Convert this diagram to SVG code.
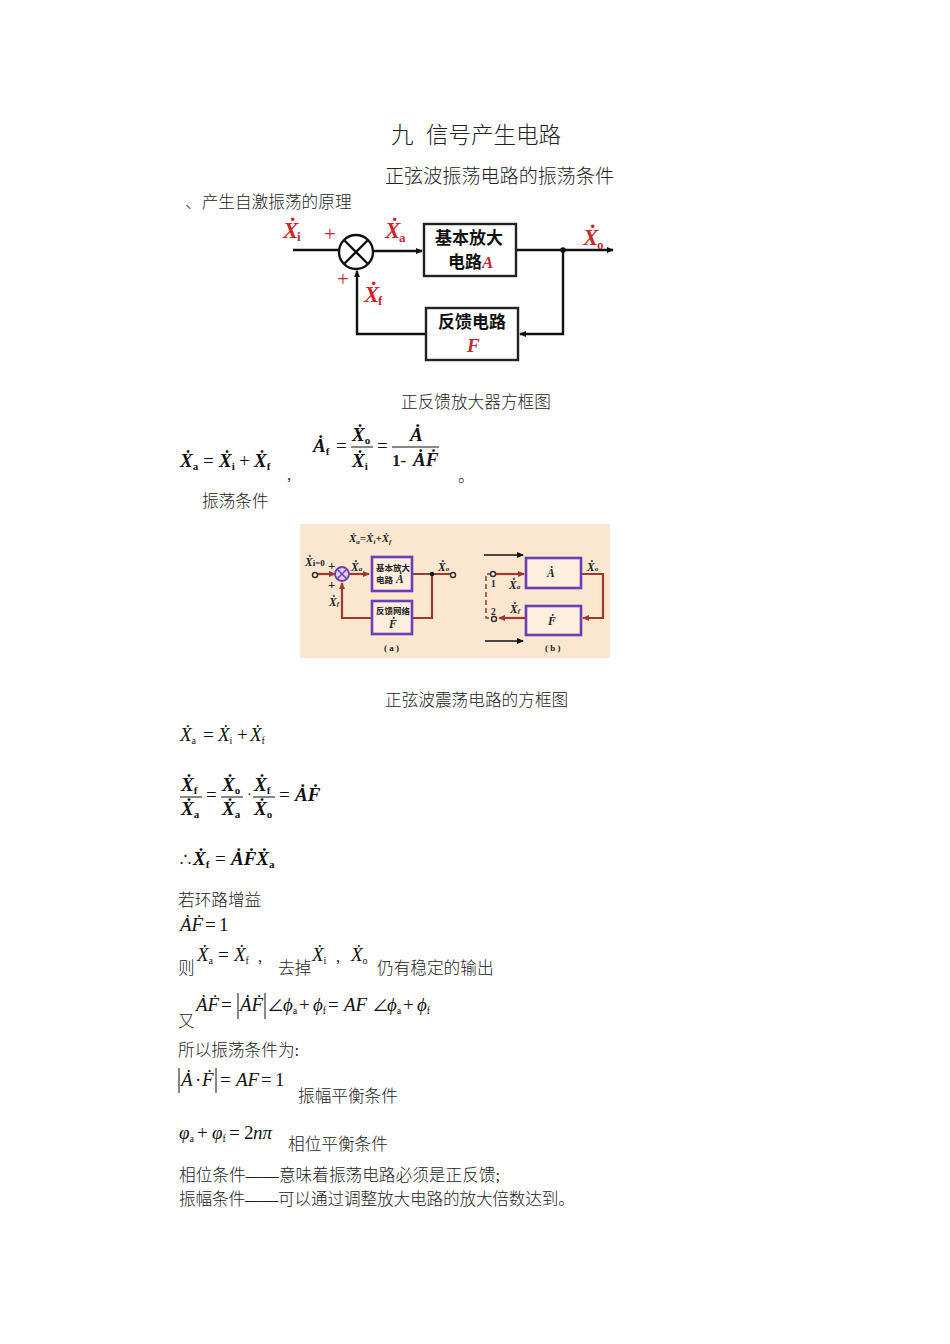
<svg xmlns="http://www.w3.org/2000/svg" width="950" height="1344" viewBox="0 0 950 1344">
<style>
text{font-family:"Liberation Serif","Noto Sans CJK SC",serif;fill:#222}
.c{font-size:16.67px;font-weight:300;transform:translateY(1px)}
.m{font-size:19px;font-style:italic;fill:#111}
.n{font-size:19px;fill:#111}
.mb{font-size:19px;font-style:italic;font-weight:bold;fill:#111}
.s{font-size:10px;font-style:normal}
.sb{font-size:11px;font-style:normal;font-weight:bold}
.r{fill:#c8282d;font-style:italic;font-weight:bold;font-size:23px}
.rs{fill:#c8282d;font-size:13px;font-weight:bold;font-style:normal}
.p{fill:#c8282d;font-size:21px}
.bk{font-size:17px;font-weight:bold;fill:#111}
.k{fill:none;stroke:#111;stroke-width:2.4}
.box{fill:#fff;stroke:#222;stroke-width:2.4}
.bx2{fill:#fdeedd;stroke:#6a3fb5;stroke-width:2.6}
.w{fill:none;stroke:#9c3a30;stroke-width:2.2}
.t{font-size:9.5px;font-weight:bold;fill:#222}
.ti{font-size:11.5px;font-weight:bold;font-style:italic;fill:#222}
.o{fill:#fdeedd;stroke:#333;stroke-width:1.5}
.rule{stroke:#111;stroke-width:1}
</style>
<defs>
<marker id="a" markerWidth="8" markerHeight="8" refX="6" refY="3" orient="auto" markerUnits="userSpaceOnUse"><path d="M0 0L7 3L0 6Z" fill="#111"/></marker>
<marker id="b" markerWidth="8" markerHeight="8" refX="6" refY="3" orient="auto" markerUnits="userSpaceOnUse"><path d="M0 0L7 3L0 6Z" fill="#9c3a30"/></marker>
</defs>
<rect width="950" height="1344" fill="#fff"/>

<g id="headings">
<text x="391" y="143" font-size="22.5" style="font-weight:300">九</text>
<text x="426" y="143" font-size="22.5" style="font-weight:300">信号产生电路</text>
<text x="385" y="183" font-size="19.1" style="font-weight:300">正弦波振荡电路的振荡条件</text>
<text x="185" y="207" class="c">、产生自激振荡的原理</text>
<text x="401" y="407" class="c">正反馈放大器方框图</text>
<text x="202" y="506" class="c">振荡条件</text>
<text x="385" y="705" class="c">正弦波震荡电路的方框图</text>
</g>

<g id="connectors-top">
<path class="k" d="M293 250H339" />
<path class="k" d="M373 251H422" marker-end="url(#a)"/>
<path class="k" d="M516 250H613" marker-end="url(#a)"/>
<path class="k" d="M563 250V334H520" marker-end="url(#a)"/>
<path class="k" d="M426 334H357V271" marker-end="url(#a)"/>
<circle cx="563" cy="250" r="2.8" fill="#111"/>
</g>
<g id="summer"><circle cx="356" cy="252" r="17" fill="#fff" stroke="#111" stroke-width="2.4"/><path class="k" d="M344 240L368 264M368 240L344 264"/></g>
<g id="amp"><rect class="box" x="424" y="224" width="92" height="52"/>
<text x="435" y="244" class="bk">基本放大</text><text x="448" y="268" class="bk">电路</text><text x="482" y="268" class="r" style="font-size:17px">A</text></g>
<g id="fb"><rect class="box" x="426" y="308" width="92" height="52"/>
<text x="438" y="328" class="bk">反馈电路</text><text x="467" y="352" class="r" style="font-size:19px">F</text></g>
<g id="top-labels">
<text x="283" y="238" class="r">X&#775;</text><text x="297" y="241" class="rs">i</text>
<text x="385" y="238" class="r">X&#775;</text><text x="399" y="242" class="rs">a</text>
<text x="583" y="245" class="r">X&#775;</text><text x="597" y="249" class="rs">o</text>
<text x="364" y="302" class="r">X&#775;</text><text x="378" y="305" class="rs">f</text>
<text x="324" y="241" class="p">+</text><text x="337" y="286" class="p">+</text>
</g>

<g id="eq-1">
<text x="180" y="467" class="mb">X&#775;<tspan class="sb" dy="3">a</tspan></text>
<text x="203" y="467" class="n">=</text>
<text x="219" y="467" class="mb">X&#775;<tspan class="sb" dy="3">i</tspan></text>
<text x="239" y="467" class="n">+</text>
<text x="254" y="467" class="mb">X&#775;<tspan class="sb" dy="3">f</tspan></text>
<text x="287" y="479" class="c">,</text>
<text x="313" y="452" class="mb">A&#775;<tspan class="sb" dy="3">f</tspan></text>
<text x="336" y="452" class="n">=</text>
<text x="352" y="441" class="mb">X&#775;<tspan class="sb" dy="3">o</tspan></text><path class="rule" d="M351 447H373"/>
<text x="352" y="467" class="mb">X&#775;<tspan class="sb" dy="3">i</tspan></text>
<text x="377" y="452" class="n">=</text>
<text x="410" y="441" class="mb">A&#775;</text><path class="rule" d="M392 447H439"/>
<text x="392" y="466" font-size="17" font-weight="bold">1-</text><text x="413" y="466" class="mb">A&#775;F&#775;</text>
<text x="458" y="481" class="c">。</text>
</g>

<g id="pic-b">
<rect x="300" y="524" width="310" height="134" fill="#fbe6cf"/>
<text x="349" y="542" class="ti" style="font-size:11px">X&#775;<tspan font-size="7" dy="2">a</tspan><tspan dy="-2">=X&#775;</tspan><tspan font-size="7" dy="2">i</tspan><tspan dy="-2">+X&#775;</tspan><tspan font-size="7" dy="2">f</tspan></text>
<g id="wires-b">
<path class="w" d="M318 574H335" marker-end="url(#b)"/>
<path class="w" d="M349 574H369" marker-end="url(#b)"/>
<path class="w" d="M412 574H451"/>
<path class="w" d="M412 618H432V574"/>
<path class="w" d="M372 618H342V583" marker-end="url(#b)"/>
<path class="w" d="M495 574H524" marker-end="url(#b)"/>
<path class="w" d="M581 574H603V618H583" marker-end="url(#b)"/>
<path class="w" d="M526 618H499" marker-end="url(#b)"/>
<path fill="none" stroke="#9c3a30" stroke-width="1.5" stroke-dasharray="5 3" d="M492 574H486V618H492"/>
<path stroke="#111" stroke-width="1.6" fill="none" marker-end="url(#a)" d="M484 555H523"/>
<path stroke="#111" stroke-width="1.6" fill="none" marker-end="url(#a)" d="M485 641H523"/>
<circle cx="432" cy="574" r="2.2" fill="#111"/>
</g>
<circle cx="342" cy="574" r="7" fill="#e6d0ee" stroke="#6a3fb5" stroke-width="1.8"/><path stroke="#6a3fb5" stroke-width="1.5" d="M337 569L347 579M347 569L337 579"/>
<circle class="o" cx="315" cy="575" r="2.5"/><circle class="o" cx="453" cy="575" r="2.5"/><circle class="o" cx="493" cy="574" r="2.5"/><circle class="o" cx="494" cy="619" r="2.5"/>
<g id="amp-a"><rect class="bx2" x="372" y="557" width="40" height="34"/><text x="376" y="571" class="t" style="font-size:8.5px">基本放大</text><text x="376" y="583" class="t" style="font-size:8.5px">电路</text><text x="396" y="583" class="ti">A&#775;</text></g>
<g id="fb-a"><rect class="bx2" x="372" y="601" width="40" height="33"/><text x="376" y="614" class="t" style="font-size:8.5px">反馈网络</text><text x="389" y="628" class="ti">F&#775;</text></g>
<g id="amp-b"><rect class="bx2" x="526" y="558" width="55" height="30"/><text x="547" y="577" class="ti">A&#775;</text></g>
<g id="fb-b"><rect class="bx2" x="526" y="606" width="55" height="29"/><text x="548" y="625" class="ti">F&#775;</text></g>
<text x="305" y="566" class="ti">X&#775;<tspan font-size="9" font-style="normal">i=0</tspan></text>
<text x="328" y="570" class="t" style="font-size:13px">+</text><text x="328" y="589" class="t" style="font-size:13px">+</text>
<text x="351" y="571" class="ti">X&#775;<tspan font-size="7">a</tspan></text>
<text x="329" y="606" class="ti">X&#775;<tspan font-size="7">f</tspan></text>
<text x="438" y="571" class="ti">X&#775;<tspan font-size="7">o</tspan></text>
<text x="384" y="651" class="t" style="font-size:9px">( a )</text>
<text x="545" y="651" class="t" style="font-size:9px">( b )</text>
<text x="491" y="587" class="t">1</text><text x="491" y="615" class="t">2</text>
<text x="509" y="589" class="ti">X&#775;<tspan font-size="7">a</tspan></text>
<text x="510" y="613" class="ti">X&#775;<tspan font-size="7">f</tspan></text>
<text x="587" y="571" class="ti">X&#775;<tspan font-size="7">o</tspan></text>
</g>

<g id="eq-2">
<text x="180" y="741" class="m">X&#775;<tspan class="s" dy="3">a</tspan></text><text x="203" y="741" class="n">=</text><text x="218" y="741" class="m">X&#775;<tspan class="s" dy="3">i</tspan></text><text x="237" y="741" class="n">+</text><text x="250" y="741" class="m">X&#775;<tspan class="s" dy="3">f</tspan></text>
<text x="181" y="791" class="mb">X&#775;<tspan class="sb" dy="3">f</tspan></text><path class="rule" d="M180 797H202"/><text x="181" y="815" class="mb">X&#775;<tspan class="sb" dy="3">a</tspan></text>
<text x="206" y="801" class="n">=</text>
<text x="222" y="791" class="mb">X&#775;<tspan class="sb" dy="3">o</tspan></text><path class="rule" d="M221 797H243"/><text x="222" y="815" class="mb">X&#775;<tspan class="sb" dy="3">a</tspan></text>
<text x="247" y="799" font-size="14">·</text>
<text x="254" y="791" class="mb">X&#775;<tspan class="sb" dy="3">f</tspan></text><path class="rule" d="M253 797H275"/><text x="254" y="815" class="mb">X&#775;<tspan class="sb" dy="3">o</tspan></text>
<text x="279" y="801" class="n">=</text><text x="295" y="801" class="mb">A&#775;F&#775;</text>
<text x="178" y="865" font-size="15">∴</text>
<text x="193" y="865" class="mb">X&#775;<tspan class="sb" dy="3">f</tspan></text><text x="215" y="865" class="n">=</text><text x="231" y="865" class="mb">A&#775;F&#775;X&#775;<tspan class="sb" dy="3">a</tspan></text>
</g>

<g id="eq-3">
<text x="178" y="905" class="c">若环路增益</text>
<text x="180" y="931" class="m">A&#775;F&#775;</text><text x="205" y="931" class="n">=</text><text x="219" y="931" class="n">1</text>
<text x="178" y="973" class="c">则</text>
<text x="197" y="961" class="m">X&#775;<tspan class="s" dy="3">a</tspan></text><text x="218" y="961" class="n">=</text><text x="234" y="961" class="m">X&#775;<tspan class="s" dy="3">f</tspan></text>
<text x="258" y="961" class="c">,</text>
<text x="278" y="973" class="c">去掉</text>
<text x="312" y="961" class="m">X&#775;<tspan class="s" dy="3">i</tspan></text>
<text x="336" y="961" class="c">,</text>
<text x="351" y="961" class="m">X&#775;<tspan class="s" dy="3">o</tspan></text>
<text x="377" y="973" class="c">仍有稳定的输出</text>
<text x="178" y="1026" class="c">又</text>
<text x="196" y="1011" class="m">A&#775;F&#775;</text><text x="221" y="1011" class="n">=</text>
<path class="rule" d="M238 993V1019M265 993V1019"/>
<text x="240" y="1011" class="m">A&#775;F&#775;</text>
<text x="267" y="1011" class="n" style="font-size:17px">∠</text>
<text x="283" y="1011" class="m">ϕ<tspan class="s" dy="3">a</tspan></text><text x="299" y="1011" class="n">+</text><text x="313" y="1011" class="m">ϕ<tspan class="s" dy="3">f</tspan></text>
<text x="328" y="1011" class="n">=</text><text x="344" y="1011" class="m">AF</text>
<text x="372" y="1011" class="n" style="font-size:17px">∠</text>
<text x="387" y="1011" class="m">ϕ<tspan class="s" dy="3">a</tspan></text><text x="403" y="1011" class="n">+</text><text x="417" y="1011" class="m">ϕ<tspan class="s" dy="3">f</tspan></text>
<text x="178" y="1055" class="c">所以振荡条件为:</text>
<path class="rule" d="M179 1068V1093M216 1068V1093"/>
<text x="181" y="1086" class="m">A&#775;</text><text x="195" y="1086" class="n">·</text><text x="202" y="1086" class="m">F&#775;</text>
<text x="220" y="1086" class="n">=</text><text x="236" y="1086" class="m">AF</text><text x="261" y="1086" class="n">=</text><text x="275" y="1086" class="n">1</text>
<text x="298" y="1101" class="c">振幅平衡条件</text>
<text x="179" y="1139" class="m">φ<tspan class="s" dy="3">a</tspan></text><text x="197" y="1139" class="n">+</text><text x="212" y="1139" class="m">φ<tspan class="s" dy="3">f</tspan></text><text x="229" y="1139" class="n">=</text><text x="244" y="1139" class="n">2</text><text x="253" y="1139" class="m">nπ</text>
<text x="288" y="1149" class="c">相位平衡条件</text>
<text x="179" y="1180" class="c">相位条件——意味着振荡电路必须是正反馈;</text>
<text x="179" y="1204" class="c" textLength="396">振幅条件——可以通过调整放大电路的放大倍数达到。</text>
</g>
</svg>
